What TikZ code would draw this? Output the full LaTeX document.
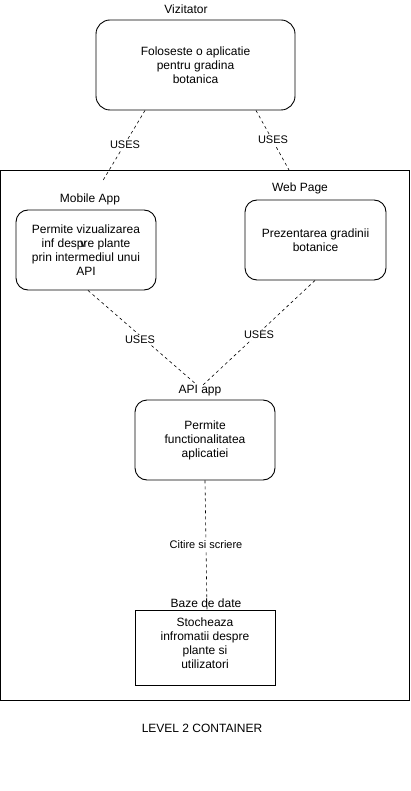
\documentclass[tikz,border=0pt]{standalone}
\usepackage{fontspec}
\setmainfont{Liberation Sans}
\begin{document}
\begin{tikzpicture}[x=1pt,y=-1pt,
  txt/.style={font=\fontsize{12}{14}\selectfont, align=center, inner sep=0pt},
  rbox/.style={draw, line width=0.9pt, rounded corners=12pt, inner sep=0pt, font=\fontsize{12}{14}\selectfont, align=center},
  sbox/.style={draw, line width=0.9pt, inner sep=0pt, font=\fontsize{12}{14}\selectfont, align=center},
  conn/.style={draw, line width=0.6pt, dash pattern=on 3pt off 3pt},
  elabel/.style={fill=white, font=\fontsize{11}{13}\selectfont, inner sep=1pt}]
\useasboundingbox (0,0) rectangle (411,791);
% container
\node[draw, line width=0.9pt, minimum width=409pt, minimum height=530pt, inner sep=0pt] (sys) at (204.5,435) {};
% boxes
\node[rbox, rounded corners=14pt, minimum width=199pt, minimum height=90pt] (viz) at (195.5,65) {Foloseste o aplicatie\\pentru gradina\\botanica};
\node[rbox, minimum width=140pt, minimum height=80pt] (mob) at (86,250) {Permite vizualizarea\\inf despre plante\\prin intermediul unui\\API};
\node[rbox, minimum width=141pt, minimum height=80pt] (web) at (315.5,240) {Prezentarea gradinii\\botanice};
\node[rbox, minimum width=140pt, minimum height=80pt] (api) at (205,440) {Permite\\functionalitatea\\aplicatiei};
\node[sbox, minimum width=140pt, minimum height=75pt] (db) at (205,647.5) {};
\node[txt] (dbt) at (205,643) {Stocheaza\\infromatii despre\\plante si\\utilizatori};
% titles
\node[txt] (tviz) at (186,9) {Vizitator};
\node[txt] (tmob) at (90,199) {Mobile App};
\node[txt] (tweb) at (300,188) {Web Page};
\node[txt] (tapi) at (200,391) {API app};
\node[txt] (tdb) at (206,603) {Baze de date};
\node[txt] (tlev) at (202,728) {LEVEL 2 CONTAINER};
\node[font=\fontsize{11}{13}\selectfont, inner sep=0pt] (stray) at (83,245) {v};
% free ends
\coordinate (e1) at (102,182);
\coordinate (e2) at (289,170);
\coordinate (e3) at (197,385);
\coordinate (e4) at (203,385);
% connectors
\draw[conn] ([xshift=-50.5pt]viz.south) -- (e1);
\draw[conn] ([xshift=60.5pt]viz.south) -- (e2);
\draw[conn] ([xshift=2pt]mob.south) -- (e3);
\draw[conn] ([xshift=-0.5pt]web.south) -- (e4);
\draw[conn] (api.south) -- ([xshift=2pt]db.north);
% edge labels
\node[elabel] (l1) at (125,145) {USES};
\node[elabel] (l2) at (273,140) {USES};
\node[elabel] (l3) at (140,340) {USES};
\node[elabel] (l4) at (259,335) {USES};
\node[elabel] (l5) at (206,545) {Citire si scriere};
\end{tikzpicture}
\end{document}
